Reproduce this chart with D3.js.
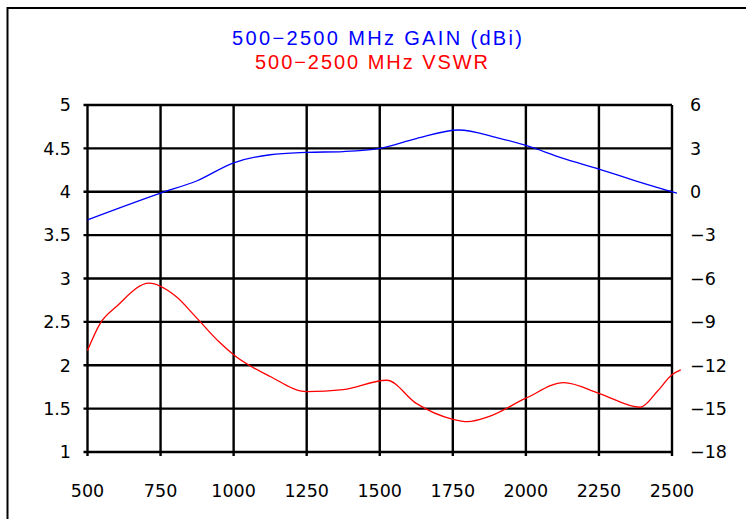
<!DOCTYPE html>
<html>
<head>
<meta charset="utf-8">
<script src="https://cdn.jsdelivr.net/npm/d3@7"></script>
<style>
body{margin:0;background:#fff;}
svg{display:block;}
</style>
</head>
<body>
<div id="chart"></div>
<script>
// frequency in MHz
var gainFreq=[500,750,875,1000,1125,1250,1375,1500,1625,1770,1900,2000,2125,2250,2375,2517];
var gainDbi=[-1.94,-0.09,0.76,2.0,2.56,2.72,2.78,3.0,3.68,4.27,3.75,3.2,2.33,1.57,0.76,-0.1];

var vswrFreq=[500,543,600,711,800,875,950,1000,1125,1250,1375,1524,1625,1750,1800,1875,2000,2130,2250,2391,2450,2500,2530];
var vswr=[2.17,2.48,2.68,2.946,2.8,2.54,2.27,2.12,1.87,1.696,1.72,1.827,1.56,1.377,1.35,1.41,1.62,1.8,1.677,1.516,1.7,1.89,1.946];

var xTicks=[500,750,1000,1250,1500,1750,2000,2250,2500];
var leftTicks=[1,1.5,2,2.5,3,3.5,4,4.5,5];
var rightTicks=[-18,-15,-12,-9,-6,-3,0,3,6];

var width=746,height=519;
var margin={left:87.5,right:74,top:105,bottom:67};

var svg=d3.select('#chart').append('svg')
    .attr('width',width)
    .attr('height',height);

// outer frame
svg.append('rect')
    .attr('x',7.5).attr('y',8)
    .attr('width',760).attr('height',540)
    .attr('fill','none')
    .attr('stroke','#000')
    .attr('stroke-width',2);

var xScale=d3.scaleLinear().domain([500,2500]).range([margin.left,width-margin.right]);
var yLeft=d3.scaleLinear().domain([1,5]).range([height-margin.bottom,margin.top]);
var yRight=d3.scaleLinear().domain([-18,6]).range([height-margin.bottom,margin.top]);

var g=svg.append('g');

// grid lines
g.selectAll('.vgrid')
    .data(xTicks)
    .enter()
    .append('line')
    .attr('x1',function(d){return xScale(d);})
    .attr('x2',function(d){return xScale(d);})
    .attr('y1',margin.top)
    .attr('y2',height-margin.bottom+4)
    .attr('stroke','#000')
    .attr('stroke-width',2.4);

g.selectAll('.hgrid')
    .data(leftTicks)
    .enter()
    .append('line')
    .attr('x1',margin.left-4)
    .attr('x2',width-margin.right)
    .attr('y1',function(d){return yLeft(d);})
    .attr('y2',function(d){return yLeft(d);})
    .attr('stroke','#000')
    .attr('stroke-width',2.4);

var fontFam='"DejaVu Sans", sans-serif';

// left labels
svg.selectAll('.ltick')
    .data(leftTicks)
    .enter()
    .append('text')
    .attr('x',71)
    .attr('y',function(d){return yLeft(d);})
    .attr('dy','0.36em')
    .attr('text-anchor','end')
    .style('font-family',fontFam)
    .style('font-size','17.5px')
    .text(function(d){return d;});

// right labels
svg.selectAll('.rtick')
    .data(rightTicks)
    .enter()
    .append('text')
    .attr('x',690)
    .attr('y',function(d){return yRight(d);})
    .attr('dy','0.36em')
    .attr('text-anchor','start')
    .style('font-family',fontFam)
    .style('font-size','17.5px')
    .text(function(d){return d<0?'\u2212'+Math.abs(d):d;});

// x labels
svg.selectAll('.xtick')
    .data(xTicks)
    .enter()
    .append('text')
    .attr('x',function(d){return xScale(d);})
    .attr('y',497)
    .attr('text-anchor','middle')
    .style('font-family',fontFam)
    .style('font-size','17.5px')
    .text(function(d){return d;});

// curves
var gainLine=d3.line()
    .x(function(d){return xScale(d[0]);})
    .y(function(d){return yRight(d[1]);})
    .curve(d3.curveMonotoneX);

var vswrLine=d3.line()
    .x(function(d){return xScale(d[0]);})
    .y(function(d){return yLeft(d[1]);})
    .curve(d3.curveMonotoneX);

svg.append('path')
    .datum(d3.zip(gainFreq,gainDbi))
    .attr('d',gainLine)
    .attr('fill','none')
    .attr('stroke','#0000ff')
    .attr('stroke-width',1.3);

svg.append('path')
    .datum(d3.zip(vswrFreq,vswr))
    .attr('d',vswrLine)
    .attr('fill','none')
    .attr('stroke','#ff0000')
    .attr('stroke-width',1.3);

// titles
svg.append('text')
    .attr('x',377).attr('y',45)
    .attr('text-anchor','middle')
    .attr('textLength',290)
    .attr('lengthAdjust','spacing')
    .style('font-family','"Liberation Sans", sans-serif')
    .style('font-size','20px')
    .attr('fill','#0000ff')
    .text('500\u22122500  MHz  GAIN  (dBi)');

svg.append('text')
    .attr('x',371.5).attr('y',69)
    .attr('text-anchor','middle')
    .attr('textLength',233)
    .attr('lengthAdjust','spacing')
    .style('font-family','"Liberation Sans", sans-serif')
    .style('font-size','20px')
    .attr('fill','#ff0000')
    .text('500\u22122500  MHz  VSWR');
</script>
</body>
</html>
